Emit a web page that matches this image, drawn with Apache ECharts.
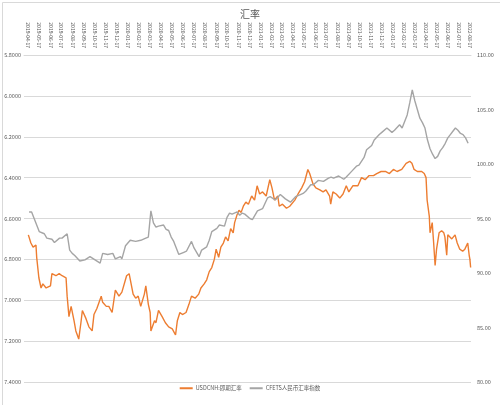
<!DOCTYPE html>
<html>
<head>
<meta charset="utf-8">
<script src="https://cdn.jsdelivr.net/npm/echarts@6/dist/echarts.min.js"></script>
<style>
html,body{margin:0;padding:0;background:#fff;}
#chart{width:500px;height:405px;}
</style>
</head>
<body>
<div id="chart"></div>
<script>
// Axis range of the date axis (daily categories)
const axisStart = '2019-04-05';
const axisEnd = '2022-08-20';

// USDCNH:即期汇率 (left axis, inverted)
const usdcnhDates = [
'2019-04-17','2019-04-24','2019-04-30','2019-05-08','2019-05-10','2019-05-16','2019-05-22','2019-05-27','2019-06-05','2019-06-10',
'2019-06-17','2019-06-21','2019-07-02','2019-07-11','2019-07-19','2019-07-30','2019-08-02','2019-08-07','2019-08-13','2019-08-21',
'2019-08-26','2019-09-03','2019-09-09','2019-09-13','2019-09-23','2019-10-01','2019-10-10','2019-10-15','2019-10-23','2019-11-04',
'2019-11-08','2019-11-18','2019-11-25','2019-12-04','2019-12-13','2019-12-23','2019-12-31','2020-01-13','2020-01-20','2020-01-31',
'2020-02-07','2020-02-14','2020-02-21','2020-03-02','2020-03-06','2020-03-13','2020-03-18','2020-03-20','2020-03-30','2020-04-03',
'2020-04-10','2020-04-20','2020-04-29','2020-05-08','2020-05-18','2020-05-27','2020-06-01','2020-06-08','2020-06-15','2020-06-25',
'2020-07-03','2020-07-10','2020-07-20','2020-07-30','2020-08-05','2020-08-14','2020-08-21','2020-08-28','2020-09-04','2020-09-11',
'2020-09-16','2020-09-23','2020-09-29','2020-10-06','2020-10-12','2020-10-19','2020-10-26','2020-11-02','2020-11-06','2020-11-13',
'2020-11-18','2020-11-24','2020-11-30','2020-12-07','2020-12-14','2020-12-23','2020-12-31','2021-01-07','2021-01-14','2021-01-22',
'2021-02-01','2021-02-11','2021-02-17','2021-02-24','2021-03-05','2021-03-09','2021-03-18','2021-03-29','2021-04-07','2021-04-21',
'2021-04-30','2021-05-10','2021-05-18','2021-05-27','2021-06-01','2021-06-10','2021-06-18','2021-06-29','2021-07-08','2021-07-16',
'2021-07-26','2021-07-29','2021-08-04','2021-08-13','2021-08-23','2021-09-01','2021-09-10','2021-09-17','2021-09-28','2021-10-12',
'2021-10-22','2021-11-01','2021-11-12','2021-11-24','2021-12-03','2021-12-15','2021-12-27','2022-01-07','2022-01-18','2022-01-28',
'2022-02-10','2022-02-22','2022-03-04','2022-03-10','2022-03-16','2022-03-25','2022-04-06','2022-04-13','2022-04-18','2022-04-21',
'2022-04-27','2022-04-29','2022-05-05','2022-05-09','2022-05-13','2022-05-17','2022-05-24','2022-05-31','2022-06-06','2022-06-09',
'2022-06-14','2022-06-17','2022-06-28','2022-07-07','2022-07-13','2022-07-20','2022-07-28','2022-08-03','2022-08-11','2022-08-15',
'2022-08-17','2022-08-19'
];
const usdcnhValues = [
6.68,6.72,6.74,6.73,6.79,6.89,6.94,6.92,6.94,6.94,
6.93,6.87,6.88,6.87,6.88,6.89,6.98,7.08,7.03,7.10,
7.15,7.19,7.11,7.05,7.09,7.13,7.15,7.07,7.04,6.98,
7.01,7.03,7.03,7.06,6.95,6.98,6.96,6.88,6.87,6.97,
6.99,6.98,7.03,6.97,6.93,7.02,7.06,7.15,7.10,7.11,
7.05,7.08,7.11,7.13,7.14,7.17,7.10,7.06,7.07,7.06,
7.02,6.98,6.99,6.97,6.94,6.92,6.90,6.86,6.84,6.80,
6.75,6.79,6.74,6.72,6.69,6.71,6.65,6.67,6.62,6.58,
6.56,6.57,6.54,6.52,6.53,6.49,6.51,6.44,6.48,6.47,
6.49,6.41,6.45,6.51,6.49,6.54,6.53,6.55,6.54,6.51,
6.48,6.45,6.42,6.36,6.38,6.43,6.45,6.46,6.47,6.46,
6.49,6.53,6.47,6.48,6.50,6.48,6.44,6.47,6.44,6.44,
6.40,6.41,6.39,6.39,6.38,6.37,6.37,6.38,6.36,6.37,
6.36,6.33,6.32,6.33,6.36,6.37,6.37,6.38,6.40,6.51,
6.59,6.67,6.62,6.72,6.83,6.75,6.67,6.66,6.67,6.69,
6.78,6.68,6.70,6.68,6.72,6.75,6.76,6.75,6.72,6.78,
6.80,6.84
];

// CFETS人民币汇率指数 (right axis)
const cfetsDates = [
'2019-04-19','2019-04-26','2019-05-03','2019-05-17','2019-05-31','2019-06-07','2019-06-21','2019-06-28','2019-07-12','2019-07-19',
'2019-08-02','2019-08-09','2019-08-16','2019-08-23','2019-09-06','2019-09-20','2019-10-04','2019-10-18','2019-11-01','2019-11-08',
'2019-11-22','2019-12-06','2019-12-13','2019-12-27','2019-12-31','2020-01-10','2020-01-23','2020-02-07','2020-02-21','2020-03-06',
'2020-03-13','2020-03-20','2020-03-27','2020-04-03','2020-04-10','2020-04-24','2020-05-01','2020-05-08','2020-05-15','2020-05-22',
'2020-05-29','2020-06-05','2020-06-19','2020-06-26','2020-07-10','2020-07-17','2020-07-31','2020-08-07','2020-08-21','2020-08-28',
'2020-09-04','2020-09-18','2020-09-25','2020-10-09','2020-10-16','2020-10-23','2020-10-30','2020-11-13','2020-11-20','2020-11-27',
'2020-12-04','2020-12-18','2020-12-25','2021-01-08','2021-01-22','2021-01-29','2021-02-05','2021-02-12','2021-02-26','2021-03-12',
'2021-03-26','2021-04-09','2021-04-23','2021-04-30','2021-05-14','2021-05-21','2021-06-04','2021-06-11','2021-06-25','2021-07-09',
'2021-07-23','2021-07-30','2021-08-06','2021-08-20','2021-09-03','2021-09-10','2021-09-24','2021-10-08','2021-10-15','2021-10-29',
'2021-11-05','2021-11-19','2021-11-26','2021-12-10','2021-12-17','2021-12-31','2022-01-14','2022-01-21','2022-02-04','2022-02-11',
'2022-02-25','2022-03-04','2022-03-11','2022-03-18','2022-03-25','2022-04-01','2022-04-08','2022-04-15','2022-04-22','2022-04-29',
'2022-05-06','2022-05-13','2022-05-20','2022-05-27','2022-06-03','2022-06-10','2022-06-17','2022-06-24','2022-07-01','2022-07-08',
'2022-07-15','2022-07-22','2022-07-29','2022-08-05','2022-08-12'
];
const cfetsValues = [
95.6,95.6,95.0,93.8,93.6,93.2,93.1,92.8,93.2,93.2,
93.6,92.1,91.8,91.6,91.1,91.2,91.5,91.2,90.9,91.8,
91.7,91.8,91.3,91.5,91.3,92.5,93.0,92.9,93.0,93.2,
93.3,95.7,94.6,94.2,94.3,94.4,94.0,93.9,93.3,92.9,
92.3,91.7,91.9,92.0,92.9,92.3,91.5,92.1,92.4,93.0,
93.8,94.1,94.4,94.3,95.1,95.5,95.4,95.6,95.3,95.5,
95.4,95.0,94.9,95.7,95.9,96.4,96.9,97.0,96.7,97.2,
96.8,96.5,97.0,97.1,97.3,97.5,98.1,98.1,98.5,98.4,
98.7,98.8,98.7,98.9,98.6,98.8,99.3,99.8,99.9,100.6,
101.3,101.7,102.2,102.7,102.9,103.3,102.9,103.1,103.6,103.3,
104.5,105.6,106.8,105.8,105.0,104.2,103.8,103.3,102.2,101.4,
100.9,100.5,100.7,101.2,101.5,101.9,102.4,102.7,103.0,103.3,
103.1,102.8,102.7,102.4,101.9
];

const seriesNames = ['USDCNH:即期汇率', 'CFETS人民币汇率指数'];

// build daily category list for the date axis
function pad(n){return n<10?'0'+n:''+n;}
const days = [];
(function(){
  const s = new Date(axisStart + 'T00:00:00Z'), e = new Date(axisEnd + 'T00:00:00Z');
  for (let t = s.getTime(); t <= e.getTime(); t += 86400000) {
    const d = new Date(t);
    days.push(d.getUTCFullYear() + '-' + pad(d.getUTCMonth()+1) + '-' + pad(d.getUTCDate()));
  }
})();

const usdcnhData = usdcnhDates.map((d,i)=>[d, usdcnhValues[i]]);
const cfetsData = cfetsDates.map((d,i)=>[d, cfetsValues[i]]);

const txt = '#595959';
const fontFam = '"Noto Sans CJK SC", "Noto Sans", sans-serif';
const chart = echarts.init(document.getElementById('chart'), null, {renderer:'canvas'});
chart.setOption({
  animation:false,
  backgroundColor:'#fff',
  textStyle:{fontFamily:fontFam},
  title:{text:'汇率', left:'center', top:4, textStyle:{fontSize:10, fontWeight:'normal', color:txt, fontFamily:fontFam}},
  legend:{
    bottom:9, left:'center', itemGap:8, itemWidth:13, itemHeight:2, icon:'rect',
    textStyle:{fontSize:5.5, color:txt, fontFamily:fontFam, padding:[0,0,0,-2]},
    data:seriesNames
  },
  grid:{left:24, right:29, top:55, bottom:23, containLabel:false},
  xAxis:{
    type:'category', position:'top', boundaryGap:false, data:days,
    axisLine:{show:true, lineStyle:{color:'#d9d9d9', width:1}},
    axisTick:{show:false},
    axisLabel:{
      interval:function(i, v){return v.slice(8) === '17';},
      rotate:90, fontSize:5, color:txt, margin:7, fontFamily:fontFam
    },
    splitLine:{show:false}
  },
  yAxis:[{
    type:'value', inverse:true, min:5.8, max:7.4, interval:0.2, position:'left',
    axisLine:{show:false}, axisTick:{show:false},
    axisLabel:{fontSize:5.5, color:txt, margin:3, formatter:function(v){return v.toFixed(4);}},
    splitLine:{show:true, lineStyle:{color:'#d9d9d9', width:1}}
  },{
    type:'value', min:80, max:110, interval:5, position:'right',
    axisLine:{show:false}, axisTick:{show:false},
    axisLabel:{fontSize:5.5, color:txt, margin:6, formatter:function(v){return v.toFixed(2);}},
    splitLine:{show:false}
  }],
  series:[{
    name:seriesNames[0], type:'line', yAxisIndex:0, data:usdcnhData, showSymbol:false, symbol:'none',
    lineStyle:{color:'#ED7D31', width:1.4}, itemStyle:{color:'#ED7D31'}
  },{
    name:seriesNames[1], type:'line', yAxisIndex:1, data:cfetsData, showSymbol:false, symbol:'none',
    lineStyle:{color:'#A5A5A5', width:1.4}, itemStyle:{color:'#A5A5A5'}
  }],
  graphic:[{
    type:'rect', left:0, top:0, silent:true, z:-1,
    shape:{x:0.5, y:0.5, width:499, height:404},
    style:{fill:'none', stroke:'#d9d9d9', lineWidth:1}
  }]
});
</script>
</body>
</html>
